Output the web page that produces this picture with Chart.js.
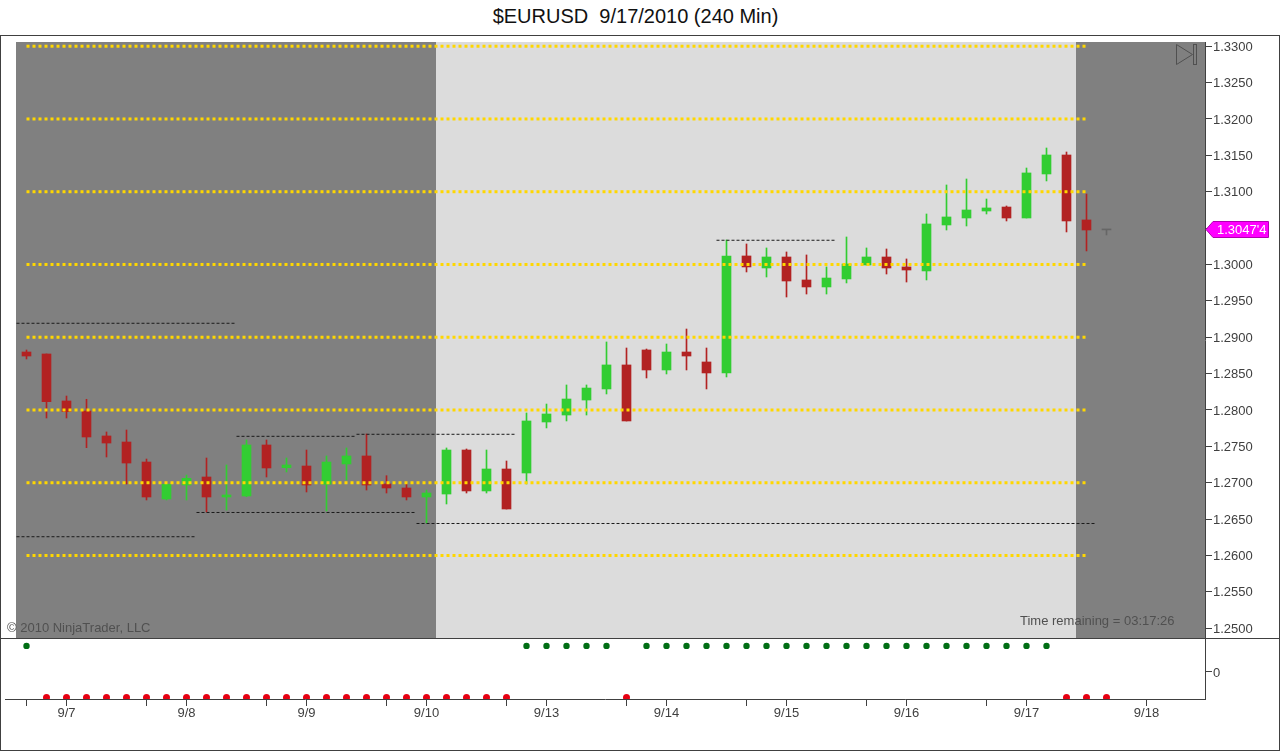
<!DOCTYPE html>
<html>
<head>
<meta charset="utf-8">
<title>$EURUSD 240 Min</title>
<script src="https://cdn.jsdelivr.net/npm/chart.js@4"></script>
<style>
  body { margin: 0; background: #fff; }
  #wrap { position: relative; width: 1280px; height: 751px; overflow: hidden; }
  #title { position: absolute; left: 0; top: 5px; width: 1271px; text-align: center;
           font: 20px "Liberation Sans", Arial, sans-serif; color: #111; }
  #frame { position: absolute; left: 0; top: 35px; width: 1278px; height: 714px; border: 1px solid #404040; }
  #divider { position: absolute; left: 0; top: 638px; width: 1280px; height: 1px; background: #404040; }
  canvas { position: absolute; left: 0; }
  #priceChart { top: 0; }
  #signalChart { top: 638px; }
</style>
</head>
<body>
<div id="wrap">
  <div id="title">$EURUSD&nbsp; 9/17/2010 (240 Min)</div>
  <div id="frame"></div>
  <canvas id="priceChart" width="1280" height="638"></canvas>
  <canvas id="signalChart" width="1280" height="113"></canvas>
  <div id="divider"></div>
</div>
<script>
'use strict';

// candles, one per 4 hour bar
const opens = [1.28797, 1.28770, 1.28124, 1.27986, 1.27643, 1.27560, 1.27285, 1.26777, 1.26969, 1.27079,
  1.26804, 1.26818, 1.27519, 1.27207, 1.27230, 1.26979, 1.27258, 1.27368, 1.26983, 1.26928,
  1.26804, 1.26845, 1.27450, 1.26887, 1.27189, 1.27134, 1.27835, 1.27931, 1.28137, 1.28289,
  1.28619, 1.28825, 1.28550, 1.28797, 1.28660, 1.28509, 1.30117, 1.29952, 1.30103, 1.29787,
  1.29691, 1.29801, 1.29993, 1.30103, 1.29966, 1.29911, 1.30543, 1.30639, 1.30735, 1.30790,
  1.30639, 1.31244, 1.31505, 1.30612, 1.30475];
const highs = [1.28825, 1.28770, 1.28192, 1.28147, 1.27698, 1.27725, 1.27326, 1.26996, 1.27106, 1.27340,
  1.27244, 1.27588, 1.27588, 1.27340, 1.27450, 1.27368, 1.27478, 1.27670, 1.27097, 1.26983,
  1.26900, 1.27478, 1.27464, 1.27450, 1.27299, 1.27959, 1.28082, 1.28344, 1.28344, 1.28935,
  1.28852, 1.28838, 1.28907, 1.29113, 1.28852, 1.30337, 1.30282, 1.30227, 1.30172, 1.30131,
  1.29966, 1.30378, 1.30227, 1.30213, 1.30076, 1.30694, 1.31093, 1.31175, 1.30900, 1.30804,
  1.31326, 1.31601, 1.31546, 1.30969, 1.30475];
const lows = [1.28701, 1.27890, 1.27890, 1.27482, 1.27354, 1.26983, 1.26763, 1.26763, 1.26763, 1.26598,
  1.26625, 1.26808, 1.27079, 1.27148, 1.26873, 1.26612, 1.27038, 1.26900, 1.26859, 1.26763,
  1.26447, 1.26708, 1.26859, 1.26859, 1.26639, 1.26983, 1.27753, 1.27849, 1.27931, 1.28220,
  1.27849, 1.28440, 1.28495, 1.28550, 1.28289, 1.28454, 1.29897, 1.29828, 1.29553, 1.29594,
  1.29594, 1.29746, 1.29993, 1.29869, 1.29759, 1.29787, 1.30474, 1.30529, 1.30694, 1.30598,
  1.30639, 1.31148, 1.30447, 1.30186, 1.30406];
const closes = [1.28742, 1.28114, 1.27977, 1.27629, 1.27546, 1.27271, 1.26804, 1.26979, 1.27061, 1.26804,
  1.26832, 1.27519, 1.27203, 1.27244, 1.26969, 1.27285, 1.27368, 1.26969, 1.26928, 1.26804,
  1.26859, 1.27450, 1.26887, 1.27189, 1.26639, 1.27849, 1.27945, 1.28151, 1.28302, 1.28619,
  1.27849, 1.28550, 1.28797, 1.28742, 1.28509, 1.30117, 1.29966, 1.30103, 1.29773, 1.29691,
  1.29814, 1.30007, 1.30103, 1.29952, 1.29924, 1.30557, 1.30653, 1.30749, 1.30777, 1.30639,
  1.31258, 1.31505, 1.30598, 1.30474, 1.30475];

// indicator dots below the price pane
const signals = [1, -1, -1, -1, -1, -1, -1, -1, -1, -1,
  -1, -1, -1, -1, -1, -1, -1, -1, -1, -1,
  -1, -1, -1, -1, -1, 1, 1, 1, 1, 1,
  -1, 1, 1, 1, 1, 1, 1, 1, 1, 1,
  1, 1, 1, 1, 1, 1, 1, 1, 1, 1,
  1, 1, -1, -1, -1];

// round number levels (yellow) and swing lines (thin black)
const levels = [1.26, 1.27, 1.28, 1.29, 1.30, 1.31, 1.32, 1.33];
const levelFrom = 0;
const levelTo = 53;
const swingPrices = [1.29192, 1.26258, 1.27638, 1.27666, 1.26591, 1.26440, 1.30333];
const swingFrom = [-0.5, -0.5, 10.5, 16.5, 8.5, 19.5, 34.5];
const swingTo = [10.5, 8.5, 16.5, 24.5, 19.5, 53.5, 40.5];

const priceTicks = [1.33, 1.325, 1.32, 1.315, 1.31, 1.305, 1.30, 1.295, 1.29, 1.285, 1.28, 1.275, 1.27, 1.265, 1.26, 1.255, 1.25];
const timeTicks = [0, 2, 6, 8, 12, 14, 18, 20, 24, 26, 30, 32, 36, 38, 42, 44, 48, 50, 56];
const timeLabels = ['', '9/7', '', '9/8', '', '9/9', '', '9/10', '', '9/13', '', '9/14', '', '9/15', '', '9/16', '', '9/17', '9/18'];

// the session shading changes at these bar positions
const sessionBreaks = [20.475, 52.475];
const lastPrice = 1.30474;
const lastPriceText = "1.3047'4";

const UP = 'rgb(50,205,50)';
const DOWN = 'rgb(178,34,34)';
const FLAT = '#666666';
const LINE = '#404040';
const TEXT = '#404040';
const FONT = '"Liberation Sans", Arial, sans-serif';

function candleColor(i) {
  if (closes[i] > opens[i]) return UP;
  if (closes[i] < opens[i]) return DOWN;
  return FLAT;
}

const wicks = highs.map((h, i) => ({ x: i, y: [lows[i], h] }));
const bodies = opens.map((o, i) => ({ x: i, y: [o, closes[i]] }));
const barColors = opens.map((o, i) => candleColor(i));

let datasets = [
  { type: 'bar', data: wicks, backgroundColor: barColors, barThickness: 1, grouped: false, order: 4 },
  { type: 'bar', data: bodies, backgroundColor: barColors, barThickness: 9, grouped: false, minBarLength: 1, order: 3 }
];

for (let s = 0; s < swingPrices.length; s++) {
  datasets.push({
    type: 'line',
    data: [{ x: swingFrom[s], y: swingPrices[s] }, { x: swingTo[s], y: swingPrices[s] }],
    borderColor: '#1a1a1a', borderWidth: 1, borderDash: [3, 2], pointRadius: 0, order: 2
  });
}
for (let l = 0; l < levels.length; l++) {
  datasets.push({
    type: 'line',
    data: [{ x: levelFrom, y: levels[l] }, { x: levelTo, y: levels[l] }],
    borderColor: '#FFD700', borderWidth: 3, borderDash: [3, 3], pointRadius: 0, order: 1
  });
}

// grey and light session background
const sessionShade = {
  id: 'sessionShade',
  beforeDatasetsDraw(chart) {
    const { ctx, chartArea: a, scales } = chart;
    const x1 = scales.x.getPixelForValue(sessionBreaks[0]);
    const x2 = scales.x.getPixelForValue(sessionBreaks[1]);
    ctx.save();
    ctx.fillStyle = '#808080';
    ctx.fillRect(a.left, a.top, a.right - a.left, a.bottom - a.top);
    ctx.fillStyle = '#dcdcdc';
    ctx.fillRect(x1, a.top, x2 - x1, a.bottom - a.top);
    ctx.restore();
  }
};

// texts, play button and the price marker on top of the pane
const paneOverlay = {
  id: 'paneOverlay',
  afterDraw(chart) {
    const { ctx, scales } = chart;
    ctx.save();
    ctx.textBaseline = 'middle';
    ctx.fillStyle = '#505050';
    ctx.font = '13px ' + FONT;
    ctx.fillText('\u00A9 2010 NinjaTrader, LLC', 7, 628.5);
    ctx.fillText('Time remaining = 03:17:26', 1020, 621.5);

    ctx.strokeStyle = '#505050';
    ctx.lineWidth = 1;
    ctx.beginPath();
    ctx.moveTo(1176.5, 44.5);
    ctx.lineTo(1192.5, 54.5);
    ctx.lineTo(1176.5, 64.5);
    ctx.closePath();
    ctx.stroke();
    ctx.strokeRect(1193.5, 44.5, 3, 20);

    const y = Math.round(scales.y.getPixelForValue(lastPrice)) - 0.5;
    ctx.fillStyle = '#ff00ff';
    ctx.strokeStyle = '#b000b0';
    ctx.beginPath();
    ctx.moveTo(1206, y);
    ctx.lineTo(1213, y - 8);
    ctx.lineTo(1268.5, y - 8);
    ctx.lineTo(1268.5, y + 8);
    ctx.lineTo(1213, y + 8);
    ctx.closePath();
    ctx.fill();
    ctx.stroke();
    ctx.fillStyle = '#ffffff';
    ctx.font = '13px ' + FONT;
    ctx.fillText(lastPriceText, 1217, y + 1);
    ctx.restore();
  }
};

function fixYAxis(scale) {
  scale.width = 75;
  scale.paddingTop = 0;
  scale.paddingBottom = 0;
}

new Chart(document.getElementById('priceChart'), {
  data: { datasets: datasets },
  plugins: [sessionShade, paneOverlay],
  options: {
    responsive: false,
    animation: false,
    devicePixelRatio: 1,
    layout: { autoPadding: false, padding: { left: 16, top: 42, right: 0, bottom: 0 } },
    plugins: { legend: { display: false }, tooltip: { enabled: false } },
    scales: {
      x: { type: 'linear', display: false, offset: false, min: -0.525, max: 58.925 },
      y: {
        position: 'right',
        min: 1.24866,
        max: 1.33058,
        afterFit: fixYAxis,
        afterBuildTicks(scale) { scale.ticks = priceTicks.map(v => ({ value: v })); },
        grid: { drawOnChartArea: false, tickLength: 7, tickColor: LINE },
        border: { color: LINE },
        ticks: {
          autoSkip: false, padding: 1, labelOffset: 1, color: TEXT,
          font: { family: FONT, size: 13 },
          callback: v => v.toFixed(4)
        }
      }
    }
  }
});

new Chart(document.getElementById('signalChart'), {
  type: 'scatter',
  data: {
    datasets: [
      {
        data: signals.map((v, i) => ({ x: i, y: v })).filter(p => p.y > 0),
        backgroundColor: '#006e14', borderWidth: 0, pointRadius: 3.2, clip: 0
      },
      {
        data: signals.map((v, i) => ({ x: i, y: v })).filter(p => p.y < 0),
        backgroundColor: '#e60012', borderWidth: 0, pointRadius: 3.5, clip: 0
      }
    ]
  },
  options: {
    responsive: false,
    animation: false,
    devicePixelRatio: 1,
    layout: { autoPadding: false, padding: { left: 5 } },
    plugins: { legend: { display: false }, tooltip: { enabled: false } },
    scales: {
      x: {
        type: 'linear',
        offset: false,
        min: -1.075,
        max: 58.925,
        afterFit(scale) { scale.height = 52; scale.paddingLeft = 0; scale.paddingRight = 0; },
        afterBuildTicks(scale) { scale.ticks = timeTicks.map(v => ({ value: v })); },
        grid: { drawOnChartArea: false, tickLength: 7, tickColor: LINE },
        border: { color: LINE },
        ticks: {
          autoSkip: false, maxRotation: 0, padding: 0, color: TEXT,
          font: { family: FONT, size: 13 },
          callback: (v, i) => timeLabels[i]
        }
      },
      y: {
        position: 'right',
        min: -1.058,
        max: 1.306,
        afterFit: fixYAxis,
        afterBuildTicks(scale) { scale.ticks = [{ value: 0 }]; },
        grid: { drawOnChartArea: false, tickLength: 7, tickColor: LINE },
        border: { color: LINE },
        ticks: { padding: 1, labelOffset: 1.5, color: TEXT, font: { family: FONT, size: 13 }, callback: v => String(v) }
      }
    }
  }
});
</script>
</body>
</html>
